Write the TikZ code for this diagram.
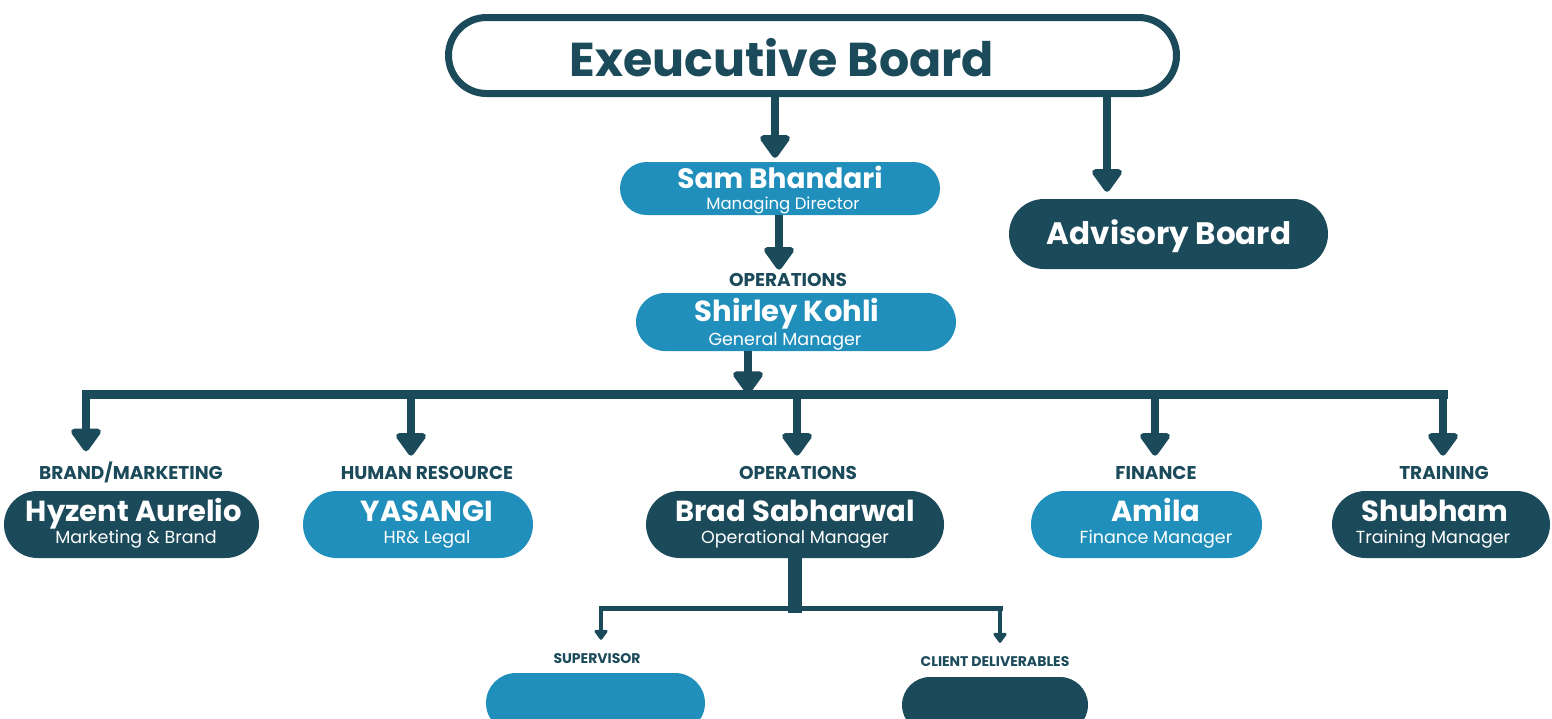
\documentclass[tikz,border=0pt]{standalone}
\usepackage{fontspec}
\setmainfont{Poppins}
\usetikzlibrary{arrows.meta}
\definecolor{dark}{HTML}{1B4A5A}
\definecolor{light}{HTML}{218FBC}
\tikzset{
  box/.style={draw=none, inner sep=0pt, minimum width=#1},
  darkbox/.style={box=#1, fill=dark},
  lightbox/.style={box=#1, fill=light},
  bigarrow/.style={draw=dark, line width=8pt, -{Triangle[width=34pt,length=25pt,round]}},
  smallarrow/.style={draw=dark, line width=4pt, -{Triangle[width=15pt,length=11pt,round]}},
  nametext/.style={text=white, font=\bfseries\fontsize{29}{30}\selectfont, anchor=base, inner sep=0pt},
  titletext/.style={text=white, font=\fontsize{17.5}{18}\selectfont, anchor=base, inner sep=0pt},
  labeltext/.style={text=dark, font=\bfseries\fontsize{18.5}{19}\selectfont, anchor=base, inner sep=0pt},
  sublabel/.style={text=dark, font=\bfseries\fontsize{14}{15}\selectfont, anchor=base, inner sep=0pt},
}
\begin{document}
\begin{tikzpicture}[x=1pt,y=-1pt]
\useasboundingbox (0,0) rectangle (1552,718);
% Executive board
\node[draw=dark, line width=7pt, fill=white, minimum width=728pt, minimum height=76pt, rounded corners=38pt, inner sep=0pt] (eb) at (812.5,55.5) {};
\node[text=dark, font=\bfseries\fontsize{47.5}{48}\selectfont, anchor=base, inner sep=0pt] (ebt) at (782,76) {Exeucutive Board};
% Sam
\node[lightbox=320pt, minimum height=53pt, rounded corners=26.5pt] (sam) at (780,188.5) {};
\node[nametext, font=\bfseries\fontsize{28}{29}\selectfont] (samn) at (780,188) {Sam Bhandari};
\node[titletext, font=\fontsize{16.5}{17}\selectfont] (samt) at (783,209.5) {Managing Director};
% Advisory
\node[darkbox=319pt, minimum height=70pt, rounded corners=35pt] (adv) at (1168.5,234) {};
\node[nametext, font=\bfseries\fontsize{31}{32}\selectfont] (advt) at (1169,244) {Advisory Board};
% Operations label + Shirley
\node[labeltext] (ops1) at (788,286) {OPERATIONS};
\node[lightbox=320pt, minimum height=58pt, rounded corners=29pt] (shir) at (796,322) {};
\node[nametext] (shirn) at (787,321) {Shirley Kohli};
\node[titletext] (shirt) at (785,345.5) {General Manager};
% Row labels
\node[labeltext] (l1) at (131,479) {BRAND/MARKETING};
\node[labeltext] (l2) at (427,479) {HUMAN RESOURCE};
\node[labeltext] (l3) at (798,479) {OPERATIONS};
\node[labeltext] (l4) at (1156,479) {FINANCE};
\node[labeltext] (l5) at (1444,479) {TRAINING};
% Row boxes
\node[darkbox=255pt, minimum height=67pt, rounded corners=33.5pt] (b1) at (131.5,524.5) {};
\node[lightbox=230pt, minimum height=67pt, rounded corners=33.5pt] (b2) at (418,524.5) {};
\node[darkbox=298pt, minimum height=67pt, rounded corners=33.5pt] (b3) at (795,524.5) {};
\node[lightbox=231pt, minimum height=67pt, rounded corners=33.5pt] (b4) at (1146.5,524.5) {};
\node[darkbox=218pt, minimum height=67pt, rounded corners=33.5pt] (b5) at (1441,524.5) {};
\node[nametext] (n1) at (134,521) {Hyzent Aurelio};
\node[titletext] (t1) at (136,543.5) {Marketing \& Brand};
\node[nametext] (n2) at (427,521) {YASANGI};
\node[titletext] (t2) at (427,543.5) {HR\& Legal};
\node[nametext] (n3) at (795,521) {Brad Sabharwal};
\node[titletext] (t3) at (795,543.5) {Operational Manager};
\node[nametext] (n4) at (1156,521) {Amila};
\node[titletext] (t4) at (1156,543.5) {Finance Manager};
\node[nametext] (n5) at (1435,521) {Shubham};
\node[titletext] (t5) at (1433,543.5) {Training Manager};
% Sub level
\node[sublabel] (s1) at (597,663) {SUPERVISOR};
\node[sublabel] (s2) at (995,666) {CLIENT DELIVERABLES};
\node[lightbox=219pt, minimum height=60pt, rounded corners=30pt] (sup) at (595.5,703) {};
\node[darkbox=186pt, minimum height=56pt, rounded corners=28pt] (cli) at (995,705) {};
% Coordinates
\coordinate (xa) at (775,0);
\coordinate (xb) at (1107,0);
\coordinate (xc) at (779,0);
\coordinate (xd) at (748,0);
\coordinate (busL) at (86,394);
\coordinate (busR) at (1443,394);
\coordinate (d2) at (411,394);
\coordinate (d3) at (797,394);
\coordinate (d4) at (1155,394);
\coordinate (bradbar) at (795,608);
\coordinate (barL) at (601,608);
\coordinate (barR) at (1000,608);
% Arrows
\draw[bigarrow] (eb.south -| xa) -- ([yshift=4pt]sam.north -| xa);
\draw[bigarrow] (eb.south -| xb) -- ([yshift=7pt]adv.north -| xb);
\draw[bigarrow] (sam.south -| xc) -- ([yshift=3pt]ops1.north -| xc);
\draw[bigarrow] (shir.south -| xd) -- (busL -| xd);
\draw[draw=dark, line width=9pt, line cap=rect] (busL) -- (busR);
\draw[bigarrow] (busL) -- ([yshift=10pt]l1.north -| busL);
\draw[bigarrow] (d2) -- ([yshift=10pt]l2.north -| d2);
\draw[bigarrow] (d3) -- ([yshift=10pt]l3.north -| d3);
\draw[bigarrow] (d4) -- ([yshift=10pt]l4.north -| d4);
\draw[bigarrow] (busR) -- ([yshift=10pt]l5.north -| busR);
\draw[draw=dark, line width=14pt] (b3.south) -- ([yshift=-5pt]bradbar);
\draw[draw=dark, line width=5pt, line cap=rect] (barL) -- (barR);
\draw[smallarrow] (barL) -- ([yshift=13pt]s1.north -| barL);
\draw[smallarrow] (barR) -- ([yshift=13pt]s2.north -| barR);
\end{tikzpicture}
\end{document}
